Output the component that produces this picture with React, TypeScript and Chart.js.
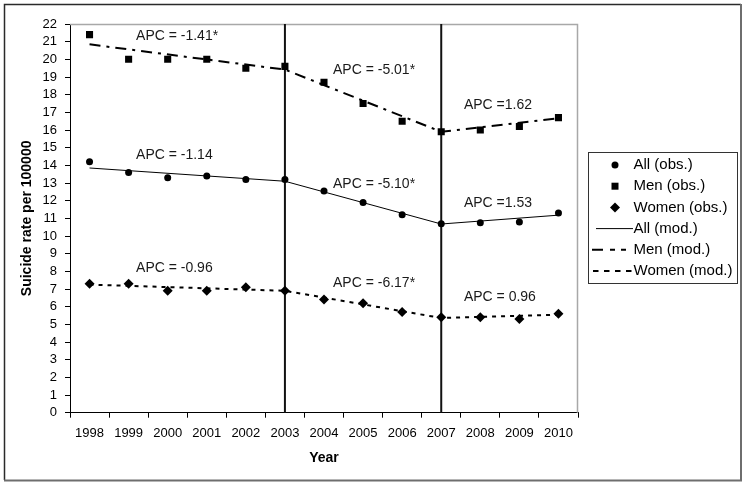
import React, { useEffect, useRef } from 'react';
import { Chart, registerables } from 'chart.js';

Chart.register(...registerables);

const years = ['1998', '1999', '2000', '2001', '2002', '2003', '2004', '2005', '2006', '2007', '2008', '2009', '2010'];

const allObs = [14.2, 13.6, 13.3, 13.4, 13.2, 13.2, 12.55, 11.9, 11.2, 10.7, 10.75, 10.8, 11.3];
const menObs = [21.4, 20.0, 20.0, 20.0, 19.5, 19.6, 18.7, 17.5, 16.5, 15.9, 16.0, 16.2, 16.7];
const womenObs = [7.3, 7.3, 6.9, 6.9, 7.1, 6.9, 6.4, 6.2, 5.7, 5.4, 5.4, 5.3, 5.6];

// modelled values at the joinpoints (segments drawn straight between them)
const allMod = [13.85, null, null, null, null, 13.1, null, null, null, 10.68, null, null, 11.18];
const menMod = [20.85, null, null, null, null, 19.42, null, null, null, 15.9, null, null, 16.66];
const womenMod = [7.25, null, null, null, null, 6.9, null, null, null, 5.36, null, null, 5.55];

const joinpointYears = ['2003', '2007'];

const apcTexts = [
  'APC = -1.41*', 'APC = -5.01*', 'APC =1.62',
  'APC = -1.14', 'APC = -5.10*', 'APC =1.53',
  'APC = -0.96', 'APC = -6.17*', 'APC = 0.96',
];
const apcX = [1.19, 6.23, 9.58, 1.19, 6.23, 9.58, 1.19, 6.23, 9.58];
const apcY = [21.32, 19.39, 17.41, 14.58, 12.94, 11.84, 8.19, 7.34, 6.55];

const yTicksMax = 22;

const FONT = '"Liberation Sans", Arial, Helvetica, sans-serif';

const decorPlugin = {
  id: 'decor',
  beforeDraw(chart: any) {
    const { ctx, width, height } = chart;
    ctx.save();
    ctx.fillStyle = '#ffffff';
    ctx.fillRect(0, 0, width, height);
    ctx.restore();
  },
  beforeDatasetsDraw(chart: any) {
    const { ctx, chartArea } = chart;
    const xs = chart.scales.x;
    ctx.save();
    ctx.strokeStyle = '#a8a8a8';
    ctx.lineWidth = 1.5;
    ctx.beginPath();
    ctx.moveTo(chartArea.left, chartArea.top + 0.5);
    ctx.lineTo(chartArea.right - 0.5, chartArea.top + 0.5);
    ctx.lineTo(chartArea.right - 0.5, chartArea.bottom);
    ctx.stroke();
    ctx.strokeStyle = '#111111';
    ctx.lineWidth = 2;
    joinpointYears.forEach((yr) => {
      const x = xs.getPixelForValue(years.indexOf(yr));
      ctx.beginPath();
      ctx.moveTo(x, chartArea.top);
      ctx.lineTo(x, chartArea.bottom);
      ctx.stroke();
    });
    ctx.restore();
  },
  afterDatasetsDraw(chart: any) {
    const { ctx } = chart;
    const xs = chart.scales.x;
    const ys = chart.scales.y;
    ctx.save();
    ctx.fillStyle = '#1a1a1a';
    ctx.font = '14px ' + FONT;
    ctx.textAlign = 'left';
    ctx.textBaseline = 'middle';
    apcTexts.forEach((t, i) => {
      ctx.fillText(t, xs.getPixelForValue(apcX[i]), ys.getPixelForValue(apcY[i]));
    });
    ctx.restore();
  },
  afterDraw(chart: any) {
    const { ctx } = chart;
    ctx.save();
    ctx.strokeStyle = '#2a2a2a';
    ctx.lineWidth = 1.5;
    ctx.beginPath();
    ctx.moveTo(4.5, 480);
    ctx.lineTo(4.5, 4.5);
    ctx.lineTo(741, 4.5);
    ctx.stroke();
    ctx.strokeStyle = '#6e6e6e';
    ctx.lineWidth = 2;
    ctx.beginPath();
    ctx.moveTo(741, 4);
    ctx.lineTo(741, 480.5);
    ctx.lineTo(4, 480.5);
    ctx.stroke();

    // legend
    const lx = 588.5, ly = 152.5, lw = 149, lh = 131;
    ctx.fillStyle = '#ffffff';
    ctx.fillRect(lx, ly, lw, lh);
    ctx.strokeStyle = '#333333';
    ctx.lineWidth = 1;
    ctx.strokeRect(lx, ly, lw, lh);
    const ds = chart.data.datasets;
    const rowY = (i: number) => 165 + i * 21.2;
    ctx.font = '15px ' + FONT;
    ctx.textBaseline = 'middle';
    ctx.textAlign = 'left';
    for (let i = 0; i < 6; i++) {
      const y = rowY(i);
      const d = ds[i];
      ctx.fillStyle = '#000000';
      ctx.strokeStyle = '#000000';
      if (i < 3) {
        const mx = 615;
        ctx.beginPath();
        if (d.pointStyle === 'circle') {
          ctx.arc(mx, y, 3.5, 0, Math.PI * 2);
        } else if (d.pointStyle === 'rect') {
          ctx.rect(mx - 3.5, y - 3.5, 7, 7);
        } else {
          ctx.moveTo(mx - 5, y);
          ctx.lineTo(mx, y - 5);
          ctx.lineTo(mx + 5, y);
          ctx.lineTo(mx, y + 5);
          ctx.closePath();
        }
        ctx.fill();
      } else {
        ctx.lineWidth = d.borderWidth;
        if (i === 3) {
          ctx.beginPath();
          ctx.moveTo(596, y);
          ctx.lineTo(633, y);
          ctx.stroke();
        } else if (i === 4) {
          ctx.setLineDash([11, 7, 5, 6, 5, 20]);
          ctx.beginPath();
          ctx.moveTo(592, y);
          ctx.lineTo(631, y);
          ctx.stroke();
          ctx.setLineDash([]);
        } else {
          ctx.setLineDash([5.5, 5.5]);
          ctx.beginPath();
          ctx.moveTo(593, y);
          ctx.lineTo(633, y);
          ctx.stroke();
          ctx.setLineDash([]);
        }
      }
      ctx.fillStyle = '#000000';
      ctx.fillText(d.label, 633.5, y);
    }
    ctx.restore();
  },
};

export default function App() {
  const ref = useRef<HTMLCanvasElement | null>(null);
  useEffect(() => {
    if (!ref.current) return;
    const chart = new Chart(ref.current, {
      type: 'line',
      data: {
        labels: years,
        datasets: [
          { label: 'All (obs.)', data: allObs, showLine: false, pointStyle: 'circle', pointRadius: 3.5, backgroundColor: '#000', borderColor: '#000', borderWidth: 0 },
          { label: 'Men (obs.)', data: menObs, showLine: false, pointStyle: 'rect', pointRadius: 5, backgroundColor: '#000', borderColor: '#000', borderWidth: 0 },
          { label: 'Women (obs.)', data: womenObs, showLine: false, pointStyle: 'rectRot', pointRadius: 5, backgroundColor: '#000', borderColor: '#000', borderWidth: 0 },
          { label: 'All (mod.)', data: allMod, spanGaps: true, pointRadius: 0, borderColor: '#000', borderWidth: 1, tension: 0 },
          { label: 'Men (mod.)', data: menMod, spanGaps: true, pointRadius: 0, borderColor: '#000', borderWidth: 2, borderDash: [11, 6, 3, 6], tension: 0 },
          { label: 'Women (mod.)', data: womenMod, spanGaps: true, pointRadius: 0, borderColor: '#000', borderWidth: 2, borderDash: [4, 5], tension: 0 },
        ] as any,
      },
      options: {
        responsive: false,
        animation: false,
        events: [],
        layout: { padding: { top: 24, right: 169, left: 0, bottom: 0 } },
        plugins: { legend: { display: false }, tooltip: { enabled: false }, title: { display: false } },
        scales: {
          x: {
            type: 'category',
            offset: true,
            grid: { offset: true, drawOnChartArea: false, drawTicks: true, tickLength: 5, tickColor: '#000', lineWidth: 1 },
            border: { display: true, color: '#000', width: 1 },
            ticks: { color: '#000', font: { family: FONT, size: 13 }, padding: 7.5, maxRotation: 0, autoSkip: false },
            title: { display: true, text: 'Year', color: '#000', font: { family: FONT, size: 14, weight: 'bold' }, padding: { top: 4, bottom: 20.6 } },
            afterFit: (s: any) => { s.height = 74.3; },
          },
          y: {
            min: 0,
            max: yTicksMax,
            grid: { drawOnChartArea: false, drawTicks: true, tickLength: 5, tickColor: '#000', lineWidth: 1 },
            border: { display: true, color: '#000', width: 1 },
            ticks: { stepSize: 1, color: '#000', font: { family: FONT, size: 13 }, padding: 8, autoSkip: false },
            title: { display: true, text: 'Suicide rate per 100000', color: '#000', font: { family: FONT, size: 14, weight: 'bold' }, padding: { top: 18.6, bottom: 4 } },
            afterFit: (s: any) => { s.width = 70; },
          },
        },
      } as any,
      plugins: [decorPlugin],
    });
    return () => chart.destroy();
  }, []);
  return (
    <div style={{ position: 'absolute', left: 0, top: 0, width: 747, height: 487 }}>
      <canvas ref={ref} width={747} height={487} style={{ display: 'block' }} />
    </div>
  );
}
